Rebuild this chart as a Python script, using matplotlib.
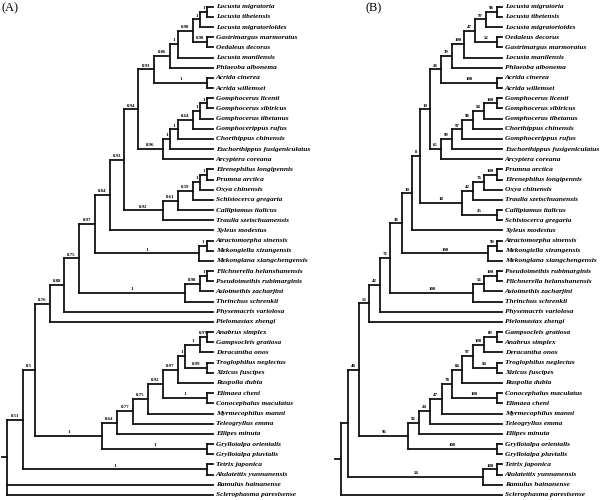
import matplotlib
matplotlib.use("Agg")
import matplotlib.pyplot as plt
from matplotlib.collections import LineCollection

# ---------------- data: trees as nested strings, internal node = support@depth ----------------
A_ACRIDINAE = ("((((((Locusta migratoria,Locusta tibetensis)1@97.1,Locusta migratorioides)1@93.7,"
               "(Gastrimargus marmoratus,Oedaleus decorus)0.98@97.1)0.98@90.3,Locusta manilensis)1@83.0,"
               "Phlaeoba albonema)0.86@79.1,(Acrida cinerea,Acrida willemsei)1@97.1)0.93@71.3")
A_GOMPH = ("((((((Gomphocerus licenti,Gomphocerus sibiricus)1@97.1,Gomphocerus tibetanus)1@93.7,"
           "Gomphocerippus rufus)0.64@90.3,Chorthippus chinensis)1@83.0,Euchorthippus fusigeniculatus)1@79.1,"
           "Arcyptera coreana)0.96@75.7")
A_CATANT = ("(((((Eirenephilus longipennis,Prumna arctica)1@97.1,Oxya chinensis)1@93.7,Schistocerca gregaria)0.59@90.3,"
            "Calliptamus italicus)0.61@83.0,Traulia szetschuanensis)0.92@75.7")
A_PYRG = "((Atractomorpha sinensis,Mekongiella xizangensis)1@97.1,Mekongiana xiangchengensis)1@93.2"
A_PAMPH = ("(((Filchnerella helanshanensis,Pseudotmethis rubimarginis)1@97.1,Asiotmethis zacharjini)0.98@93.7,"
           "Thrinchus schrenkii)1@86.4")
A_ENSIF = ("(((((((((Anabrus simplex,Gampsocleis gratiosa)0.97@97.1,Deracantha onos)1@93.7,"
           "(Troglophilus neglectus,Xizicus fuscipes)0.99@97.1)1@86.4,Ruspolia dubia)0.97@83.0,"
           "(Elimaea cheni,Conocephalus maculatus)1@97.1)0.92@75.7,Myrmecophilus manni)0.75@68.4,"
           "Teleogryllus emma)0.77@61.1,Ellipes minuta)0.64@53.3,"
           "(Gryllotalpa orientalis,Gryllotalpa pluvialis)1@97.1)1@46.0")
A_TETR = "(Tetrix japonica,Alulatettix yunnanensis)1@97.1"
TREE_A = ("((((((((((" + A_ACRIDINAE + "," + A_GOMPH + ")0.94@63.5," + A_CATANT + ")0.93@56.7,"
          "Xyleus modestus)0.84@49.9," + A_PYRG + ")0.97@42.6," + A_PAMPH + ")0.75@34.9,"
          "Physemacris variolosa)0.88@27.6,Pielomastax zhengi)0.76@20.8," + A_ENSIF + ")0.5@13.5,"
          + A_TETR + ")0.51@7.5,Ramulus hainanense,Sclerophasma paresisense)@0")

B_ACRIDINAE = ("((((((Locusta migratoria,Locusta tibetensis)98@96.7,Locusta migratorioides)97@89.9,"
               "(Oedaleus decorus,Gastrimargus marmoratus)52@96.7)47@83.3,Locusta manilensis)100@76.6,"
               "Phlaeoba albonema)39@68.8,(Acrida cinerea,Acrida willemsei)100@96.7)26@62.2")
B_GOMPH = ("((((((Gomphocerus licenti,Gomphocerus sibiricus)100@96.7,Gomphocerus tibetanus)94@89.0,"
           "Chorthippus chinensis)98@81.8,Gomphocerippus rufus)97@75.4,Euchorthippus fusigeniculatus)99@68.8,"
           "Arcyptera coreana)65@62.0")
B_CATANT = ("((((Prumna arctica,Eirenephilus longipennis)100@96.7,Oxya chinensis)76@89.0,"
            "Traulia szetschuanensis)42@82.2,(Calliptamus italicus,Schistocerca gregaria)25@96.7)18@75.0")
B_PYRG = "((Atractomorpha sinensis,Mekongiella xizangensis)99@96.7,Mekongiana xiangchengensis)100@91.5"
B_PAMPH = ("(((Pseudotmethis rubimarginis,Filchnerella helanshanensis)100@96.7,Asiotmethis zacharjini)56@89.0,"
           "Thrinchus schrenkii)100@82.2")
B_ENSIF = ("(((((((((Gampsocleis gratiosa,Anabrus simplex)89@96.7,Deracantha onos)100@89.0,"
           "(Troglophilus neglectus,Xizicus fuscipes)94@96.7)97@81.8,Ruspolia dubia)84@75.4,"
           "(Conocephalus maculatus,Elimaea cheni)100@96.7)78@68.8,Myrmecophilus manni)47@62.6,"
           "Teleogryllus emma)44@55.4,Ellipes minuta)92@48.7,"
           "(Gryllotalpa orientalis,Gryllotalpa pluvialis)100@96.7)96@41.9")
B_TETR = "((Tetrix japonica,Alulatettix yunnanensis)100@96.7,Ramulus hainanense)54@88.4"
TREE_B = ("((((((((((" + B_ACRIDINAE + "," + B_GOMPH + ")19@55.4," + B_CATANT + ")8@49.2,"
          "Xyleus modestus)10@44.0," + B_PYRG + ")38@37.8," + B_PAMPH + ")71@30.6,"
          "Physemacris variolosa)42@24.4,Pielomastax zhengi)53@17.7," + B_ENSIF + ")40@11.5,"
          + B_TETR + ")@4.8,Sclerophasma paresisense)@0")

PANEL_TITLES = ["(A)", "(B)"]
TIP_DEPTH = 100.0


def parse(s):
    pos = 0

    def skip():
        nonlocal pos
        while pos < len(s) and s[pos] == " ":
            pos += 1

    def read_label():
        nonlocal pos
        start = pos
        while pos < len(s) and s[pos] not in ",()":
            pos += 1
        return s[start:pos].strip()

    def node():
        nonlocal pos
        skip()
        if s[pos] == "(":
            pos += 1
            kids = [node()]
            while s[pos] == ",":
                pos += 1
                kids.append(node())
            assert s[pos] == ")"
            pos += 1
            lab = read_label()
            sup, depth = lab.split("@")
            return {"children": kids, "support": sup, "depth": float(depth)}
        return {"name": read_label(), "children": []}

    return node()


def layout(tree):
    count = [0]

    def assign(n):
        if not n["children"]:
            n["y"] = count[0]
            n["depth"] = TIP_DEPTH
            count[0] += 1
        else:
            for c in n["children"]:
                assign(c)
            n["y"] = (n["children"][0]["y"] + n["children"][-1]["y"]) / 2.0
    assign(tree)
    return count[0]


LW = 1.3
LEAF_FONT = dict(family="Liberation Serif", weight="bold", style="italic", size=5.35)
SUP_FONT = dict(family="Liberation Serif", weight="bold", size=3.5)


def draw_tree(ax, tree, stub):
    segs = []

    def rec(n, pdepth):
        segs.append([(pdepth, n["y"]), (n["depth"], n["y"])])
        if n["children"]:
            segs.append([(n["depth"], n["children"][0]["y"]), (n["depth"], n["children"][-1]["y"])])
            if n["support"] and pdepth >= 0:
                ax.annotate(n["support"], ((pdepth + n["depth"]) / 2, n["y"]), xytext=(0, 1.3),
                            textcoords="offset points", ha="center", va="bottom", **SUP_FONT)
            for c in n["children"]:
                rec(c, n["depth"])
        else:
            ax.annotate(n["name"], (n["depth"], n["y"]), xytext=(2.0, 0), textcoords="offset points",
                        ha="left", va="center", annotation_clip=False, **LEAF_FONT)

    rec(tree, stub)
    ax.add_collection(LineCollection(segs, colors="#111111", linewidths=LW, capstyle="projecting"))


fig = plt.figure(figsize=(6, 5), dpi=100)
trees = [parse(TREE_A), parse(TREE_B)]
# axes geometry: (left pixel of root, pixel per depth unit, root stub), panel half-width 300 px
geo = [(7.3, 2.057, -2.7), (40.7, 1.613, -3.5)]
title_px = [2, 65]
for k, (tree, (root_px, ppu, stub)) in enumerate(zip(trees, geo)):
    n = layout(tree)
    ax = fig.add_axes([0.5 * k, 0, 0.5, 1])
    ax.set_xlim(-root_px / ppu, (300 - root_px) / ppu)
    top_px, step = 6.7, 10.17
    ax.set_ylim((500 - top_px) / step, -top_px / step)
    ax.axis("off")
    draw_tree(ax, tree, stub)
    ax.text(title_px[k] / 300, 1 - 8 / 500, PANEL_TITLES[k], transform=ax.transAxes, ha="left",
            va="center", family="Liberation Serif", size=9)

fig.savefig("out.png", dpi=100)
